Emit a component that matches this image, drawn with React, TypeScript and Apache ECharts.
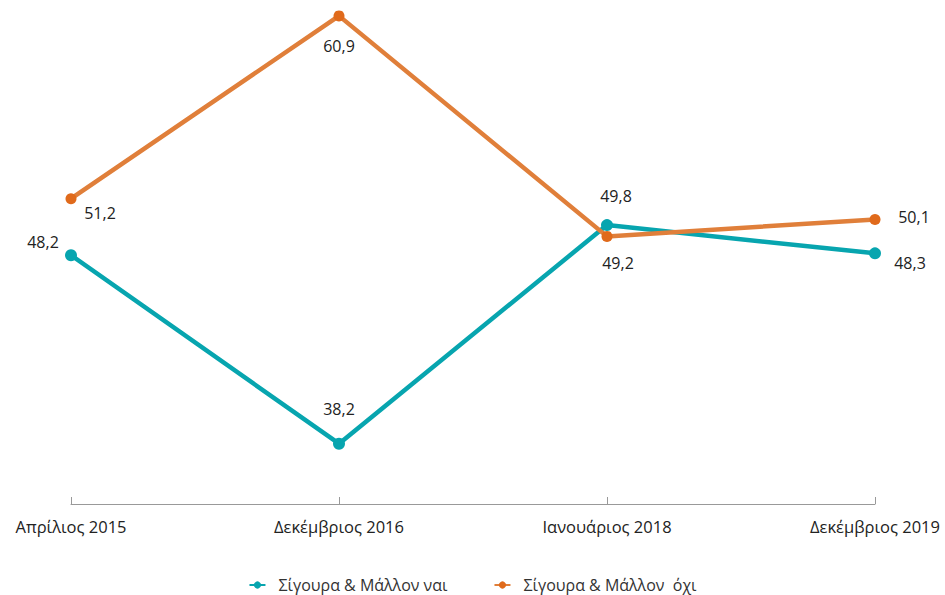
import React, { useEffect, useRef } from "react";
import * as echarts from "echarts";

const categories = ["Απρίλιος 2015", "Δεκέμβριος 2016", "Ιανουάριος 2018", "Δεκέμβριος 2019"];
const yesName = "Σίγουρα & Μάλλον ναι";
const noName = "Σίγουρα & Μάλλον  όχι";
const yesValues = [48.2, 38.2, 49.8, 48.3];
const noValues = [51.2, 60.9, 49.2, 50.1];
const yesLabelOffsets = [[-28, -13], [0, -35], [9, -29], [35, 10]];
const noLabelOffsets = [[29, 14], [0, 30], [11, 27], [39, -2]];

const TEAL = "#07A5AF";
const ORANGE = "#E07F3A";
const FONT = "Open Sans";

function fmt(v: number) {
  return v.toFixed(1).replace(".", ",");
}

export default function App() {
  const ref = useRef<HTMLDivElement>(null);
  useEffect(() => {
    if (!ref.current) return;
    const chart = echarts.init(ref.current, undefined, { renderer: "svg" });
    const mk = (vals: number[], offs: number[][]) =>
      vals.map((v, i) => ({
        value: v,
        label: { offset: offs[i] },
      }));
    chart.setOption({
      animation: false,
      textStyle: { fontFamily: FONT },
      grid: { left: 71, right: 70, top: 14, bottom: 91 },
      legend: {
        bottom: -3,
        left: "center",
        itemGap: 46,
        itemWidth: 16,
        itemHeight: 9,
        textStyle: { fontFamily: FONT, fontSize: 16, color: "#333", padding: [0, 0, 0, 8] },
        data: [yesName, noName],
      },
      xAxis: {
        type: "category",
        data: categories,
        boundaryGap: false,
        axisLine: { lineStyle: { color: "#999", width: 1 } },
        axisTick: { inside: true, length: 7, lineStyle: { color: "#999" } },
        axisLabel: { fontFamily: FONT, fontSize: 16.5, color: "#222", margin: 14 },
      },
      yAxis: { type: "value", min: 35, max: 61, show: false, splitLine: { show: false } },
      series: [
        {
          name: yesName,
          type: "line",
          data: mk(yesValues, yesLabelOffsets),
          color: TEAL,
          lineStyle: { width: 4.5, color: TEAL },
          symbol: "circle",
          symbolSize: 12,
          label: {
            show: true,
            position: "inside",
            fontFamily: FONT,
            fontSize: 16,
            color: "#222",
            formatter: (p: any) => fmt(p.value),
          },
        },
        {
          name: noName,
          type: "line",
          data: mk(noValues, noLabelOffsets),
          color: ORANGE,
          lineStyle: { width: 4.5, color: ORANGE },
          itemStyle: { color: "#E06A1B" },
          symbol: "circle",
          symbolSize: 11,
          label: {
            show: true,
            position: "inside",
            fontFamily: FONT,
            fontSize: 16,
            color: "#222",
            formatter: (p: any) => fmt(p.value),
          },
        },
      ],
    });
    return () => chart.dispose();
  }, []);
  return (
    <div
      ref={ref}
      style={{ position: "fixed", left: 0, top: 0, width: 945, height: 595, background: "#fff" }}
    />
  );
}
